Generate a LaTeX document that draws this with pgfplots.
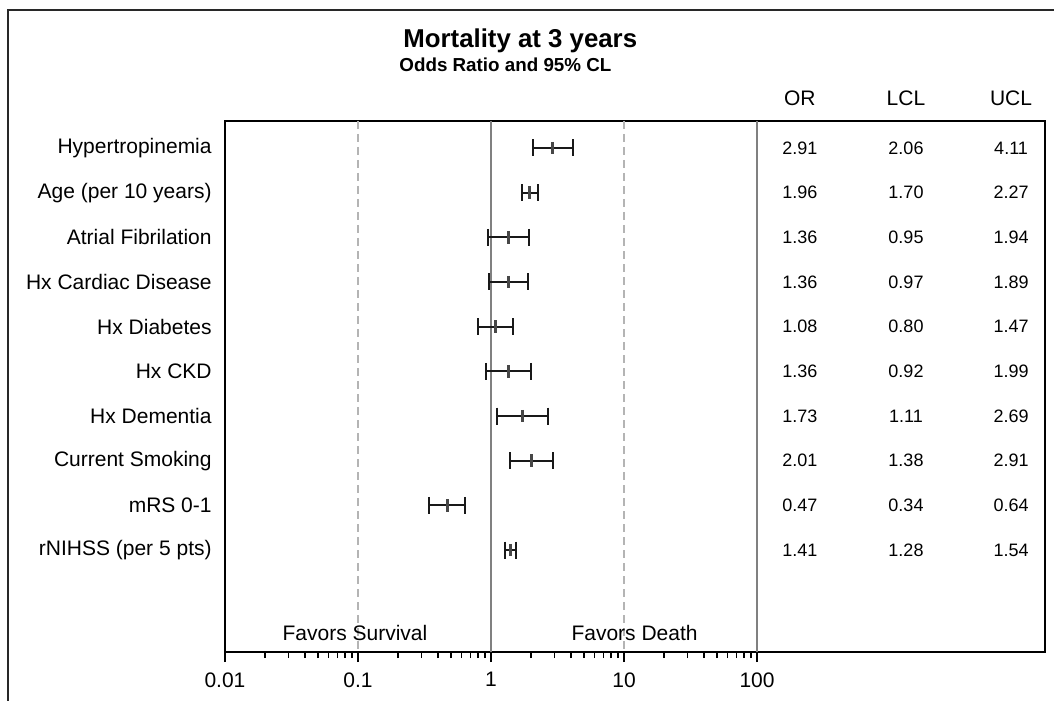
\documentclass[border=0pt]{standalone}
\usepackage{fontspec}
\setmainfont{Liberation Sans}
\usepackage{pgfplots}
\usepackage{pgfplotstable}
\pgfplotsset{compat=1.18}

% odds ratios with lower and upper 95% confidence limits
\pgfplotstableread{
row OR LCL UCL
1 2.91 2.06 4.11
2 1.96 1.70 2.27
3 1.36 0.95 1.94
4 1.36 0.97 1.89
5 1.08 0.80 1.47
6 1.36 0.92 1.99
7 1.73 1.11 2.69
8 2.01 1.38 2.91
9 0.47 0.34 0.64
10 1.41 1.28 1.54
}\forestdata

% confidence-interval segments (LCL -> UCL), separated by jumps
\pgfplotstableread{
x y
2.06 1
4.11 1
nan nan
1.70 2
2.27 2
nan nan
0.95 3
1.94 3
nan nan
0.97 4
1.89 4
nan nan
0.80 5
1.47 5
nan nan
0.92 6
1.99 6
nan nan
1.11 7
2.69 7
nan nan
1.38 8
2.91 8
nan nan
0.34 9
0.64 9
nan nan
1.28 10
1.54 10
}\cidata

\definecolor{refgray}{RGB}{128,128,128}
\definecolor{dashgray}{RGB}{180,180,180}
\definecolor{framegray}{RGB}{40,40,40}

\begin{document}
\begin{tikzpicture}
\path[use as bounding box] (-112.5pt,-24.5pt) rectangle (414.5pt,326pt);
\begin{axis}[
  at={(0,0)}, anchor=south west,
  scale only axis, width=410pt, height=265.5pt,
  xmode=log, log basis x=10,
  xmin=0.01, xmax=14620,
  ymin=0.396, ymax=12.283, y dir=reverse,
  xtick={0.01,0.1,1,10,100},
  xticklabels={0.01,0.1,1,10,100},
  minor xtick={0.02,0.03,0.04,0.05,0.06,0.07,0.08,0.09,0.2,0.3,0.4,0.5,0.6,0.7,0.8,0.9,2,3,4,5,6,7,8,9,20,30,40,50,60,70,80,90},
  xtick pos=left, ytick pos=left,
  tick align=outside,
  major tick length=5pt, minor tick length=3pt,
  tick style={black, line width=0.8pt},
  ytick={1,2,3,4,5,6,7,8,9,10},
  yticklabels={Hypertropinemia, Age (per 10 years), Atrial Fibrilation, Hx Cardiac Disease, Hx Diabetes, Hx CKD, Hx Dementia, Current Smoking, mRS 0-1, rNIHSS (per 5 pts)},
  ytick style={draw=none},
  axis line style={black, line width=1pt},
  tick label style={font=\fontsize{10.5}{12}\selectfont},
  yticklabel style={inner sep=0pt, anchor=east, xshift=-1.5pt},
  xticklabel style={inner sep=0pt, anchor=north, yshift=-5pt},
  /pgf/number format/assume math mode=true,
  unbounded coords=jump,
  clip=false,
]
% reference lines
\addplot[refgray, line width=0.75pt] coordinates {(1,0.396) (1,12.283)};
\addplot[refgray, line width=0.75pt] coordinates {(100,0.396) (100,12.283)};
\addplot[dashgray, line width=0.7pt, dash pattern=on 4pt off 2.5pt] coordinates {(0.1,0.396) (0.1,12.283)};
\addplot[dashgray, line width=0.7pt, dash pattern=on 4pt off 2.5pt] coordinates {(10,0.396) (10,12.283)};

% confidence intervals with end caps
\addplot[black!90, line width=1pt, mark=|, mark size=4.25pt,
  mark options={line width=1pt, black!90, solid}]
  table[x=x, y=y] {\cidata};

% odds ratio markers
\addplot[only marks, mark=|, mark size=3.1pt,
  mark options={line width=1.5pt, draw=black!72}]
  table[x=OR, y=row] {\forestdata};

% table columns
\addplot[draw=none, mark=none, nodes near coords, point meta=explicit symbolic,
  every node near coord/.append style={anchor=center, inner sep=0pt, font=\fontsize{9}{10.8}\selectfont}]
  table[x expr=210, y=row, meta=OR] {\forestdata};
\addplot[draw=none, mark=none, nodes near coords, point meta=explicit symbolic,
  every node near coord/.append style={anchor=center, inner sep=0pt, font=\fontsize{9}{10.8}\selectfont}]
  table[x expr=1318, y=row, meta=LCL] {\forestdata};
\addplot[draw=none, mark=none, nodes near coords, point meta=explicit symbolic,
  every node near coord/.append style={anchor=center, inner sep=0pt, font=\fontsize{9}{10.8}\selectfont}]
  table[x expr=8128, y=row, meta=UCL] {\forestdata};

\node[font=\fontsize{10.5}{12}\selectfont, inner sep=0pt] at (axis cs:210,-0.108) {OR};
\node[font=\fontsize{10.5}{12}\selectfont, inner sep=0pt] at (axis cs:1318,-0.108) {LCL};
\node[font=\fontsize{10.5}{12}\selectfont, inner sep=0pt] at (axis cs:8128,-0.108) {UCL};

\node[font=\fontsize{10.5}{12}\selectfont, inner sep=0pt] at (axis cs:0.0949,11.85) {Favors Survival};
\node[font=\fontsize{10.5}{12}\selectfont, inner sep=0pt] at (axis cs:12,11.85) {Favors Death};
\end{axis}
% outer frame (cropped at right and bottom)
\draw[framegray, line width=1pt] (-108.5pt,-24.5pt) -- (-108.5pt,321pt) -- (414.5pt,321pt);
% titles
\node[anchor=base west, inner sep=0pt, font=\bfseries\fontsize{12.9}{15}\selectfont] at (89pt,302pt) {Mortality at 3 years};
\node[anchor=base west, inner sep=0pt, font=\bfseries\fontsize{9.4}{11}\selectfont] at (87pt,290pt) {Odds Ratio and 95\% CL};
\end{tikzpicture}
\end{document}
